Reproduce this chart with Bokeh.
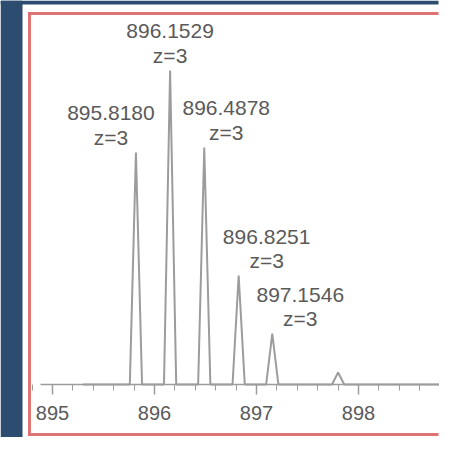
from bokeh.plotting import figure
from bokeh.models import Range1d, BoxAnnotation, FixedTicker, ColumnDataSource
from bokeh.core.properties import value
from bokeh.embed import file_html
from bokeh.resources import INLINE

# ---- data ----
peak_mz = [895.8180, 896.1529, 896.4878, 896.8251, 897.1546, 897.80]
peak_intensity = [73.9, 100.0, 75.5, 34.7, 16.2, 3.8]
label_text = ["895.8180", "896.1529", "896.4878", "896.8251", "897.1546"]
charge_text = ["z=3", "z=3", "z=3", "z=3", "z=3"]
tick_values = [895, 896, 897, 898, 899]

# ---- styles / layout ----
W, H = 439, 437
label_dx = [-25, 0, 22, 28, 28]
half_width = 0.06
trace_start, trace_end = 895.3, 898.9
font = "Liberation Sans"
text_color = "#5a5a5a"

p = figure(width=W, height=H, output_backend="svg", toolbar_location=None,
           x_range=Range1d(894.4902, 898.7941), y_range=Range1d(-16.88, 122.29),
           min_border=0, min_border_left=0, min_border_right=0,
           min_border_top=0, min_border_bottom=0)
p.background_fill_color = "white"
p.border_fill_color = "white"
p.outline_line_color = None
p.grid.visible = False
p.yaxis.visible = False

# spectrum trace built from the peak list
xs = [trace_start]
ys = [0]
for c, h in zip(peak_mz, peak_intensity):
    xs += [c - half_width, c, c + half_width]
    ys += [0, h, 0]
xs.append(trace_end)
ys.append(0)
p.line(xs, ys, line_color="#9c9c9c", line_width=2)

# annotations
src = ColumnDataSource(dict(x=peak_mz[:5], y=peak_intensity[:5], lab=label_text,
                            z=charge_text, dx=label_dx))
p.text(x="x", y="y", text="lab", source=src, x_offset="dx", y_offset=-39,
       text_align="center", text_baseline="middle", text_font=value(font),
       text_font_size="21px", text_color=text_color)
p.text(x="x", y="y", text="z", source=src, x_offset="dx", y_offset=-15,
       text_align="center", text_baseline="middle", text_font=value(font),
       text_font_size="21px", text_color=text_color)

# x axis drawn on the baseline
ax = p.xaxis[0]
ax.fixed_location = 0
ax.ticker = FixedTicker(ticks=tick_values,
                        minor_ticks=[895 + i * 0.2 for i in range(-1, 21)])
ax.bounds = (894.88, 899.5)
ax.axis_line_color = "#9c9c9c"
ax.axis_line_width = 1.5
ax.major_tick_line_color = "#9c9c9c"
ax.major_tick_line_width = 1.5
ax.major_tick_out = 10
ax.major_tick_in = 0
ax.minor_tick_line_color = "#9c9c9c"
ax.minor_tick_out = 6
ax.minor_tick_in = 0
ax.major_label_standoff = 12
ax.major_label_text_font = font
ax.major_label_text_font_size = "20px"
ax.major_label_text_color = text_color

# page decoration: dark strips and red frame (left, top, bottom) of the panel
# (screen y units are measured from the bottom of the canvas)
dark = "#2c4d6f"
red = "#df7272"
def box(left, right, top, bottom, color):
    return BoxAnnotation(left=left, right=right, top=H - top, bottom=H - bottom,
                         left_units="screen", right_units="screen",
                         top_units="screen", bottom_units="screen",
                         fill_color=color, fill_alpha=1, line_color=None,
                         line_alpha=0)

p.add_layout(box(0, 22, 0, H, dark))
p.add_layout(box(0, W - 1, 0, 4, dark))
p.add_layout(box(27.5, 30.5, 11.5, 435.5, red))
p.add_layout(box(27.5, W - 1, 11.5, 14.5, red))
p.add_layout(box(27.5, W - 1, 432.5, 435.5, red))

open("out.html", "w").write(file_html(p, INLINE))
